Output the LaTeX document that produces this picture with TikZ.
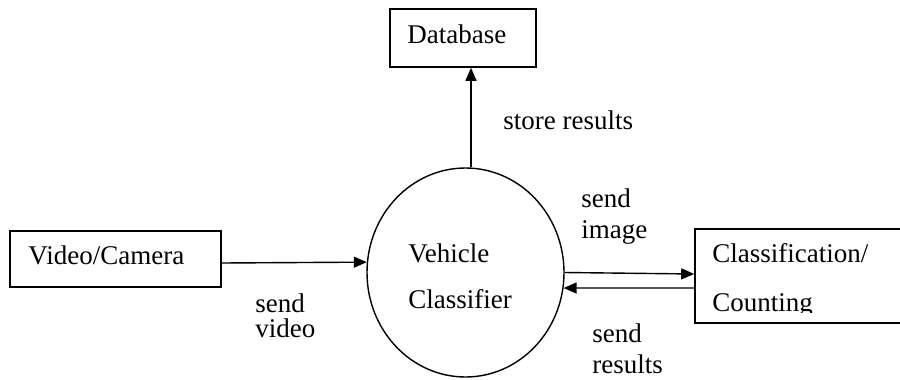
\documentclass[tikz,border=0pt]{standalone}
\usepackage{fontspec}
\setmainfont{Liberation Serif}
\usetikzlibrary{shapes.geometric,arrows.meta}
\begin{document}
\begin{tikzpicture}[x=0.5pt,y=-0.5pt,
  box/.style={draw, line width=0.8pt, inner sep=0pt},
  proc/.style={draw, ellipse, line width=0.7pt, inner sep=0pt},
  lbl/.style={anchor=base west, inner sep=0pt, font=\fontsize{13.5}{16}\selectfont},
  flow/.style={draw, line width=0.7pt, -{Triangle[length=6.5pt,width=5.5pt]}}]
  \clip (0,0) rectangle (900,380);
  \fill[white] (0,0) rectangle (900,380);

  % boxes and the central process
  \node[box, minimum width=73pt, minimum height=29pt] (db) at (463,38) {};
  \node[box, minimum width=105.5pt, minimum height=28pt] (vid) at (115.5,259) {};
  \node[box, minimum width=105pt, minimum height=47pt] (cc) at (800,276) {};
  \node[proc, minimum width=98.5pt, minimum height=104.5pt] (vc) at (465.5,272.5) {};

  % texts inside the shapes
  \node[lbl] (dbt) at (407,43) {Database};
  \node[lbl] (vidt) at (28,264) {Video/Camera};
  \node[lbl] (vct1) at (408,262) {Vehicle};
  \node[lbl] (vct2) at (408,308) {Classifier};
  \node[lbl] (cct1) at (712,262) {Classification/};
  \begin{scope}
    \clip (695,229) rectangle (905,312);
    \node[lbl] (cct2) at (712,311) {Counting};
  \end{scope}

  % data flows
  \path ([xshift=2.75pt]vc.north) coordinate (vtop);
  \draw[flow] (vtop) -- (vtop |- db.south);
  \draw[flow] ([yshift=-2pt]vid.east) -- (vc.174.5);
  \draw[flow] (vc.east) -- ([yshift=1pt]cc.west);
  \draw[flow] ([yshift=-6pt]cc.west) -- (vc.-9);

  % flow labels
  \node[lbl] (st) at (503,129) {store results};
  \node[lbl] (si1) at (581,207) {send};
  \node[lbl] (si2) at (581,238) {image};
  \node[lbl] (sv1) at (255,312) {send};
  \node[lbl] (sv2) at (255,337) {video};
  \node[lbl] (sr1) at (592,342) {send};
  \node[lbl] (sr2) at (592,373) {results};
\end{tikzpicture}
\end{document}
